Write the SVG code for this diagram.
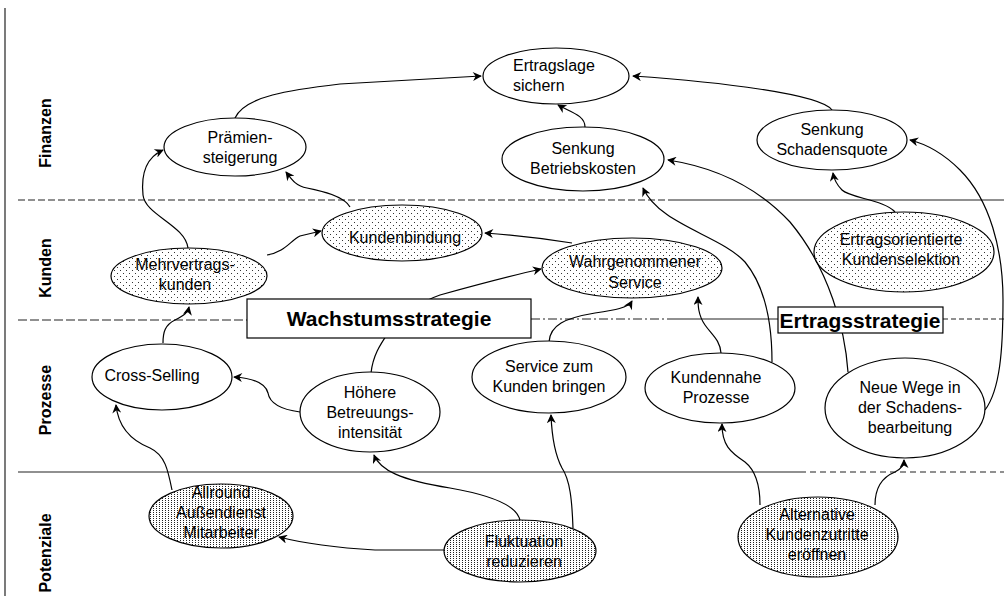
<svg xmlns="http://www.w3.org/2000/svg" width="1004" height="596" viewBox="0 0 1004 596">
  <style>
    .lane { font-family: "Liberation Sans", Arial, sans-serif; font-weight: bold; font-size: 16px; fill: #000; }
    .lbl { font-family: "Liberation Sans", Arial, sans-serif; font-size: 16px; fill: #000; text-anchor: middle; }
    .strat { font-family: "Liberation Sans", Arial, sans-serif; font-weight: bold; font-size: 21px; fill: #000; text-anchor: middle; }
    .node { stroke: #000; stroke-width: 1.2; }
    .plain { fill: #fff; }
    .light { fill: url(#dotsLight); }
    .dense { fill: url(#dotsDense); }
    .edge { fill: none; stroke: #000; stroke-width: 1.2; marker-end: url(#arrow); }
    .div { fill: none; stroke: #222; stroke-width: 1.2; }
  </style>
  <defs>
    <pattern id="dotsLight" x="0" y="0" width="6" height="6" patternUnits="userSpaceOnUse">
      <rect width="6" height="6" fill="#fff"/>
      <rect x="0" y="0" width="1" height="1" fill="#333"/>
      <rect x="3" y="3" width="1" height="1" fill="#333"/>
    </pattern>
    <pattern id="dotsDense" x="0" y="0" width="3" height="2" patternUnits="userSpaceOnUse">
      <rect width="3" height="2" fill="#fff"/>
      <rect x="0" y="0" width="1" height="1" fill="#222"/>
    </pattern>
    <marker id="arrow" viewBox="0 0 10 10" refX="9" refY="5" markerWidth="11" markerHeight="9" markerUnits="userSpaceOnUse" orient="auto">
      <path d="M0,0 L10,5 L0,10 L3,5 Z" fill="#000"/>
    </marker>
  </defs>

  <rect width="1004" height="596" fill="#fff"/>

  <!-- lane frame and dividers -->
  <g id="lanes">
    <line class="div" x1="5" y1="8" x2="5" y2="596"/>
    <line class="div" x1="18" y1="200" x2="670" y2="200" stroke-dasharray="7 3"/>
    <line class="div" x1="670" y1="200" x2="1004" y2="200"/>
    <line class="div" x1="18" y1="320" x2="247" y2="320" stroke-dasharray="9 3"/>
    <line class="div" x1="531" y1="319" x2="670" y2="319" stroke-dasharray="9 3 2 3"/>
    <line class="div" x1="670" y1="319" x2="778" y2="319"/>
    <line class="div" x1="943" y1="319" x2="1004" y2="319" stroke-dasharray="5 3"/>
    <line class="div" x1="18" y1="472" x2="800" y2="472"/>
    <line class="div" x1="800" y1="472" x2="1004" y2="472" stroke-dasharray="6 4"/>
    <text class="lane" text-anchor="middle" transform="translate(51,133) rotate(-90)">Finanzen</text>
    <text class="lane" text-anchor="middle" transform="translate(51,268) rotate(-90)">Kunden</text>
    <text class="lane" text-anchor="middle" transform="translate(51,400) rotate(-90)">Prozesse</text>
    <text class="lane" text-anchor="middle" transform="translate(51,553) rotate(-90)">Potenziale</text>
  </g>

  <!-- cause-effect links -->
  <g id="connectors">
    <path class="edge" d="M235,118 C245,96 290,90 340,84 L481,76"/>
    <path class="edge" d="M832,110 C820,94 720,82 633,76"/>
    <path class="edge" d="M585,127 C585,115 570,112 558,105"/>
    <path class="edge" d="M188,248 C185,225 145,215 143,195 C141,175 145,158 163,150"/>
    <path class="edge" d="M350,207 C344,196 322,191 307,188 C296,186 292,180 286,172"/>
    <path class="edge" d="M267,255 C285,252 290,241 300,236 L321,231"/>
    <path class="edge" d="M572,243 C540,238 512,235 485,233"/>
    <path class="edge" d="M371,373 C373,355 380,345 390,330 C400,315 420,302 440,295 C480,284 510,276 541,269"/>
    <path class="edge" d="M549,342 C550,325 565,318 595,313 C615,310 628,308 632,301"/>
    <path class="edge" d="M721,353 C720,340 712,335 705,325 C698,315 698,305 698,297"/>
    <path class="edge" d="M772,362 C772,330 768,290 745,262 C720,235 660,225 643,188"/>
    <path class="edge" d="M848,372 C845,330 830,270 790,222 C760,190 720,168 668,160"/>
    <path class="edge" d="M985,410 C1000,390 1003,350 1003,300 C1003,250 990,200 960,170 C945,155 930,145 910,140"/>
    <path class="edge" d="M895,212 C885,200 850,198 842,190 C836,184 834,179 833,173"/>
    <path class="edge" d="M163,343 C163,332 165,325 175,320 C185,315 188,312 189,307"/>
    <path class="edge" d="M300,412 C285,410 270,405 268,393 C265,382 250,378 234,377"/>
    <path class="edge" d="M172,490 C168,470 165,455 150,448 C130,440 118,425 116,405"/>
    <path class="edge" d="M520,521 C518,505 490,495 450,488 C400,480 380,470 374,455"/>
    <path class="edge" d="M444,550 L375,550 C340,548 310,545 279,537"/>
    <path class="edge" d="M573,528 C572,500 570,480 562,468 C555,455 552,440 551,415"/>
    <path class="edge" d="M760,505 C760,485 755,470 745,462 C730,452 722,445 722,424"/>
    <path class="edge" d="M875,505 C875,490 880,478 895,472 C902,468 904,465 904,460"/>
  </g>

  <!-- strategy banners -->
  <g id="wachstumsstrategie">
    <rect x="247" y="299" width="284" height="39" fill="#fff" stroke="#000" stroke-width="1.2"/>
    <text class="strat" x="389" y="326">Wachstumsstrategie</text>
  </g>
  <g id="ertragsstrategie">
    <rect x="778" y="307" width="165" height="26" fill="#fff" stroke="#000" stroke-width="1.2"/>
    <text class="strat" x="860" y="328">Ertragsstrategie</text>
  </g>

  <!-- Finanzen -->
  <g id="ertragslage">
    <ellipse class="node plain" cx="556" cy="76" rx="73" ry="28"/>
    <text class="lbl" x="513" y="71" style="text-anchor:start">Ertragslage</text>
    <text class="lbl" x="513" y="91" style="text-anchor:start">sichern</text>
  </g>
  <g id="praemiensteigerung">
    <ellipse class="node plain" cx="235" cy="147" rx="71" ry="29"/>
    <text class="lbl" x="240" y="143">Prämien-</text>
    <text class="lbl" x="240" y="163">steigerung</text>
  </g>
  <g id="betriebskosten">
    <ellipse class="node plain" cx="583" cy="159" rx="81" ry="32"/>
    <text class="lbl" x="583" y="154">Senkung</text>
    <text class="lbl" x="583" y="174">Betriebskosten</text>
  </g>
  <g id="schadensquote">
    <ellipse class="node plain" cx="832" cy="140" rx="75" ry="30"/>
    <text class="lbl" x="832" y="135">Senkung</text>
    <text class="lbl" x="832" y="155">Schadensquote</text>
  </g>

  <!-- Kunden -->
  <g id="mehrvertragskunden">
    <ellipse class="node light" cx="189" cy="276" rx="78" ry="28"/>
    <text class="lbl" x="185" y="270">Mehrvertrags-</text>
    <text class="lbl" x="185" y="290">kunden</text>
  </g>
  <g id="kundenbindung">
    <ellipse class="node light" cx="402" cy="233" rx="80" ry="28"/>
    <text class="lbl" x="405" y="243">Kundenbindung</text>
  </g>
  <g id="service-wahrnehmung">
    <ellipse class="node light" cx="632" cy="268" rx="90" ry="30"/>
    <text class="lbl" x="635" y="267">Wahrgenommener</text>
    <text class="lbl" x="635" y="288">Service</text>
  </g>
  <g id="kundenselektion">
    <ellipse class="node light" cx="904" cy="252" rx="90" ry="40"/>
    <text class="lbl" x="901" y="245">Ertragsorientierte</text>
    <text class="lbl" x="901" y="265">Kundenselektion</text>
  </g>

  <!-- Prozesse -->
  <g id="cross-selling">
    <ellipse class="node plain" cx="162" cy="377" rx="70" ry="33"/>
    <text class="lbl" x="152" y="381">Cross-Selling</text>
  </g>
  <g id="betreuung">
    <ellipse class="node plain" cx="370" cy="412" rx="70" ry="40"/>
    <text class="lbl" x="370" y="398">Höhere</text>
    <text class="lbl" x="370" y="418">Betreuungs-</text>
    <text class="lbl" x="370" y="438">intensität</text>
  </g>
  <g id="service-bringen">
    <ellipse class="node plain" cx="549" cy="377" rx="77" ry="36"/>
    <text class="lbl" x="549" y="372">Service zum</text>
    <text class="lbl" x="549" y="392">Kunden bringen</text>
  </g>
  <g id="kundennahe-prozesse">
    <ellipse class="node plain" cx="720" cy="388" rx="75" ry="35"/>
    <text class="lbl" x="716" y="383">Kundennahe</text>
    <text class="lbl" x="716" y="403">Prozesse</text>
  </g>
  <g id="schadensbearbeitung">
    <ellipse class="node plain" cx="905" cy="408" rx="80" ry="50"/>
    <text class="lbl" x="910" y="393">Neue Wege in</text>
    <text class="lbl" x="910" y="413">der Schadens-</text>
    <text class="lbl" x="910" y="433">bearbeitung</text>
  </g>

  <!-- Potenziale -->
  <g id="allround">
    <ellipse class="node dense" cx="221" cy="516" rx="72" ry="32"/>
    <text class="lbl" x="221" y="498">Allround</text>
    <text class="lbl" x="221" y="518">Außendienst</text>
    <text class="lbl" x="221" y="538">Mitarbeiter</text>
  </g>
  <g id="fluktuation">
    <ellipse class="node dense" cx="520" cy="551" rx="76" ry="31"/>
    <text class="lbl" x="524" y="547">Fluktuation</text>
    <text class="lbl" x="524" y="567">reduzieren</text>
  </g>
  <g id="kundenzutritte">
    <ellipse class="node dense" cx="818" cy="537" rx="80" ry="40"/>
    <text class="lbl" x="817" y="520">Alternative</text>
    <text class="lbl" x="817" y="540">Kundenzutritte</text>
    <text class="lbl" x="817" y="560">eröffnen</text>
  </g>
</svg>
